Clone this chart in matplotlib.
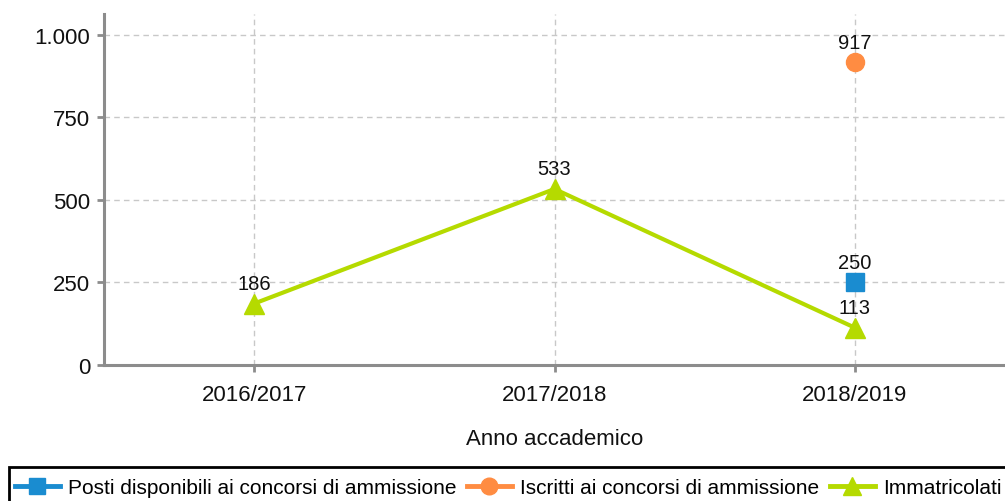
import matplotlib
matplotlib.use("Agg")
import matplotlib.pyplot as plt
from matplotlib.ticker import FuncFormatter
from matplotlib.lines import Line2D
from matplotlib.patches import Rectangle

categories = ["2016/2017", "2017/2018", "2018/2019"]
posti = [None, None, 250]
iscritti = [None, None, 917]
immatricolati = [186, 533, 113]
yticks = [0, 250, 500, 750, 1000]

blue = "#1a8cd0"
orange = "#ff8c42"
green = "#b5da00"

plt.rcParams['font.family'] = ['Liberation Sans', 'DejaVu Sans']

fig = plt.figure(figsize=(10.05, 5.02), dpi=100)
ax = fig.add_axes([104/1005, (502-366)/502, 1 - 104/1005, (366-15)/502])

x = list(range(len(categories)))

def pts(vals):
    xs = [i for i, v in zip(x, vals) if v is not None]
    ys = [v for v in vals if v is not None]
    return xs, ys

xs, ys = pts(immatricolati)
ax.plot(xs, ys, color=green, lw=3, marker='^', ms=14.5, zorder=3, clip_on=False)
xs_p, ys_p = pts(posti)
ax.plot(xs_p, ys_p, color=blue, lw=3, marker='s', ms=13, ls='none', zorder=4)
xs_i, ys_i = pts(iscritti)
ax.plot(xs_i, ys_i, color=orange, lw=3, marker='o', ms=13, ls='none', zorder=4)

for xs_, ys_ in [(xs, ys), (xs_p, ys_p), (xs_i, ys_i)]:
    for xx, yy in zip(xs_, ys_):
        ax.annotate(f"{yy}", (xx, yy), xytext=(0, 14.5), textcoords='offset points',
                    ha='center', va='center', fontsize=14.5, color='#111111')

ax.set_xlim(-0.5, 2.5)
ax.set_ylim(0, 1063)
ax.set_xticks(x)
ax.set_xticklabels(categories)
ax.set_yticks(yticks)
ax.yaxis.set_major_formatter(FuncFormatter(lambda v, p: f"{int(v):,}".replace(",", ".")))

for s in ['top', 'right']:
    ax.spines[s].set_visible(False)
for s in ['left', 'bottom']:
    ax.spines[s].set_color('#8c8c8c')
    ax.spines[s].set_linewidth(2.2)
ax.tick_params(axis='both', colors='#8c8c8c', width=2, length=5, labelsize=16, labelcolor='#111111')
ax.tick_params(axis='y', pad=5)
ax.tick_params(axis='x', pad=9)
ax.grid(True, color='#c8c8c8', ls=(0, (4, 3)), lw=1)
ax.set_axisbelow(True)
ax.set_xlabel("Anno accademico", fontsize=16, color='#111111', labelpad=16)

handles = [
    Line2D([], [], color=blue, lw=3.5, marker='s', ms=12),
    Line2D([], [], color=orange, lw=3.5, marker='o', ms=12),
    Line2D([], [], color=green, lw=3.5, marker='^', ms=13),
]
labels = ["Posti disponibili ai concorsi di ammissione",
          "Iscritti ai concorsi di ammissione",
          "Immatricolati"]
leg = fig.legend(handles, labels, loc='center left', bbox_to_anchor=(15/1005, 1 - 489/502),
                 ncol=3, frameon=False,
                 handlelength=2.15, handletextpad=0.4, columnspacing=0.5, borderpad=0,
                 borderaxespad=0,
                 prop={'family': ['Liberation Sans', 'DejaVu Sans'], 'size': 15})

fig.patches.append(Rectangle((9/1005, -0.05), 1.0, 1 - 468/502 + 0.05,
                             transform=fig.transFigure, fill=False,
                             edgecolor='black', linewidth=2, zorder=5))

fig.savefig("out.png", dpi=100)
